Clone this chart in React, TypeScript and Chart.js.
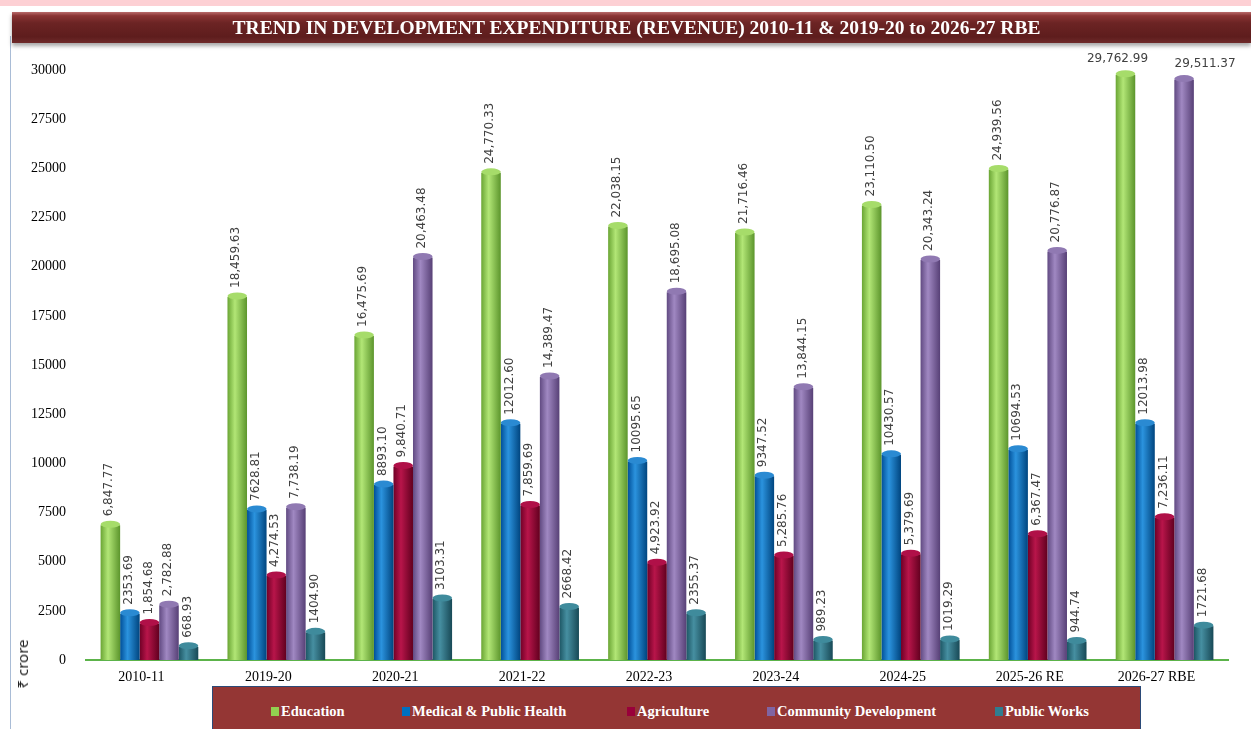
import React, { useEffect, useRef } from 'react';
import { Chart, registerables } from 'chart.js';
Chart.register(...registerables);

const titleText = 'TREND IN DEVELOPMENT EXPENDITURE (REVENUE) 2010-11 & 2019-20 to 2026-27 RBE';
const yAxisTitle = '₹ crore';
const categories = ['2010-11', '2019-20', '2020-21', '2021-22', '2022-23', '2023-24', '2024-25', '2025-26 RE', '2026-27 RBE'];
const seriesNames = ['Education', 'Medical & Public Health', 'Agriculture', 'Community Development', 'Public Works'];
const education = [6847.77, 18459.63, 16475.69, 24770.33, 22038.15, 21716.46, 23110.5, 24939.56, 29762.99];
const medical = [2353.69, 7628.81, 8893.1, 12012.6, 10095.65, 9347.52, 10430.57, 10694.53, 12013.98];
const agriculture = [1854.68, 4274.53, 9840.71, 7859.69, 4923.92, 5285.76, 5379.69, 6367.47, 7236.11];
const community = [2782.88, 7738.19, 20463.48, 14389.47, 18695.08, 13844.15, 20343.24, 20776.87, 29511.37];
const publicWorks = [668.93, 1404.9, 3103.31, 2668.42, 2355.37, 989.23, 1019.29, 944.74, 1721.68];
const thousandsSep = [true, false, true, true, false];
const yMin = 0;
const yMax = 30000;
const yStep = 2500;

const baseColors = ['#92d050', '#0070c0', '#99003a', '#8064a2', '#2f7d90'];
const gradStops = [
  ['#6aa534', '#b2e676', '#5c952c'],
  ['#004f98', '#2b93de', '#00457f'],
  ['#700026', '#b8154a', '#62001f'],
  ['#614a82', '#a088c2', '#574076'],
  ['#1d5664', '#468fa1', '#184956'],
];
const capColors = ['#a6dc6a', '#2a8ad2', '#b01048', '#9079b2', '#3f8b9c'];

const CAT_PCT = 0.77;

function fmt(v: number, di: number) {
  if (thousandsSep[di]) return v.toLocaleString('en-US', { minimumFractionDigits: 2, maximumFractionDigits: 2 });
  return v.toFixed(2);
}

const decorPlugin = {
  id: 'decor',
  afterDatasetsDraw(chart: any) {
    const ctx = chart.ctx;
    chart.data.datasets.forEach((ds: any, di: number) => {
      const meta = chart.getDatasetMeta(di);
      meta.data.forEach((bar: any, i: number) => {
        const { x, y, width } = bar.getProps(['x', 'y', 'width'], true);
        ctx.save();
        ctx.beginPath();
        ctx.ellipse(x, y - 1, width / 2, 3.5, 0, 0, Math.PI * 2);
        ctx.fillStyle = capColors[di];
        ctx.fill();
        ctx.restore();

        const v = ds.data[i];
        const txt = fmt(v, di);
        ctx.save();
        ctx.fillStyle = '#404040';
        ctx.font = '12px "DejaVu Sans"';
        if (v > 28000) {
          ctx.textAlign = 'center';
          ctx.textBaseline = 'bottom';
          const off = di < 2 ? -8 : 21;
          ctx.fillText(txt, x + off, y - 10);
        } else {
          ctx.translate(x - 1, y - 9);
          ctx.rotate(-Math.PI / 2);
          ctx.textAlign = 'left';
          ctx.textBaseline = 'middle';
          ctx.fillText(txt, 0, 0);
        }
        ctx.restore();
      });
    });
  },
};

export default function App() {
  const ref = useRef<HTMLCanvasElement>(null);
  useEffect(() => {
    if (!ref.current) return;
    const all = [education, medical, agriculture, community, publicWorks];
    const chart = new Chart(ref.current, {
      type: 'bar',
      data: {
        labels: categories,
        datasets: all.map((d, di) => ({
          label: seriesNames[di],
          data: d,
          categoryPercentage: CAT_PCT,
          barPercentage: 1,
          borderWidth: 0,
          backgroundColor: (c: any) => {
            const ch = c.chart;
            const xs = ch.scales && ch.scales.x;
            if (!xs || c.dataIndex === undefined || !ch.chartArea) return baseColors[di];
            const center = xs.getPixelForValue(c.dataIndex);
            const catW = xs.width / categories.length;
            const bw = (catW * CAT_PCT) / all.length;
            const left = center - (all.length / 2) * bw + di * bw;
            if (!isFinite(left)) return baseColors[di];
            const g = ch.ctx.createLinearGradient(left, 0, left + bw, 0);
            g.addColorStop(0, gradStops[di][0]);
            g.addColorStop(0.38, gradStops[di][1]);
            g.addColorStop(1, gradStops[di][2]);
            return g;
          },
        })),
      },
      options: {
        responsive: false,
        animation: false,
        layout: { padding: { left: 0, right: 23, top: 70, bottom: 39 } },
        plugins: {
          legend: { display: false },
          tooltip: { enabled: false },
          title: { display: false },
        },
        scales: {
          x: {
            grid: { display: false, drawTicks: false },
            border: { display: true, color: '#5cb34a', width: 2 },
            ticks: {
              color: '#000',
              font: { family: '"Liberation Serif", serif', size: 14 },
              padding: 9,
              labelOffset: -8,
              maxRotation: 0,
              autoSkip: false,
            },
            afterFit: (s: any) => { s.height = 30; },
          },
          y: {
            min: yMin,
            max: yMax,
            grid: { display: false, drawTicks: false },
            border: { display: false },
            ticks: {
              stepSize: yStep,
              color: '#000',
              font: { family: '"Liberation Serif", serif', size: 14 },
              padding: 20,
              callback: (v: any) => String(v),
            },
            afterFit: (s: any) => { s.width = 86; },
          },
        },
      },
      plugins: [decorPlugin],
    });
    return () => chart.destroy();
  }, []);

  const swatchLeft = [271, 402, 627, 767, 995];

  return (
    <div style={{ position: 'fixed', left: 0, top: 0, width: 1251, height: 729, overflow: 'hidden', background: '#fff' }}>
      <div style={{ position: 'absolute', left: 0, top: 0, width: 1251, height: 6, background: '#fdd0d4' }} />
      <div style={{ position: 'absolute', left: 10, top: 36, width: 1, height: 700, background: '#a9bcd6' }} />
      <canvas ref={ref} width={1251} height={729} style={{ position: 'absolute', left: 0, top: 0 }} />
      <div
        style={{
          position: 'absolute', left: 12, top: 12, width: 1239, height: 31,
          background: 'linear-gradient(to bottom, #b86a6a 0%, #8a3434 12%, #6c2424 35%, #5e1d1d 80%, #6e2a2a 100%)',
          boxShadow: '0 3px 4px rgba(0,0,0,0.35)',
          display: 'flex', alignItems: 'center', justifyContent: 'center',
        }}
      >
        <span style={{ color: '#fff', fontFamily: '"Liberation Serif", serif', fontWeight: 'bold', fontSize: 19.5, marginLeft: 10, whiteSpace: 'nowrap' }}>{titleText}</span>
      </div>
      <div
        style={{
          position: 'absolute', left: 14, top: 664, transform: 'translate(-50%, -50%) rotate(-90deg)',
          transformOrigin: 'center', fontFamily: '"Noto Sans", sans-serif', fontSize: 15, color: '#222', whiteSpace: 'nowrap',
          marginLeft: 8,
        }}
      >
        {yAxisTitle}
      </div>
      <div
        style={{
          position: 'absolute', left: 212, top: 686, width: 929, height: 50,
          background: '#943634', border: '1px solid #2b4a78', boxSizing: 'border-box',
        }}
      />
      {seriesNames.map((n, i) => (
        <div key={n} style={{ position: 'absolute', left: swatchLeft[i], top: 703, display: 'flex', alignItems: 'center', whiteSpace: 'nowrap' }}>
          <span style={{ display: 'inline-block', width: 8, height: 9, background: baseColors[i], marginRight: 2 }} />
          <span style={{ color: '#fff', fontFamily: '"Liberation Serif", serif', fontWeight: 'bold', fontSize: 14.5 }}>{n}</span>
        </div>
      ))}
    </div>
  );
}
